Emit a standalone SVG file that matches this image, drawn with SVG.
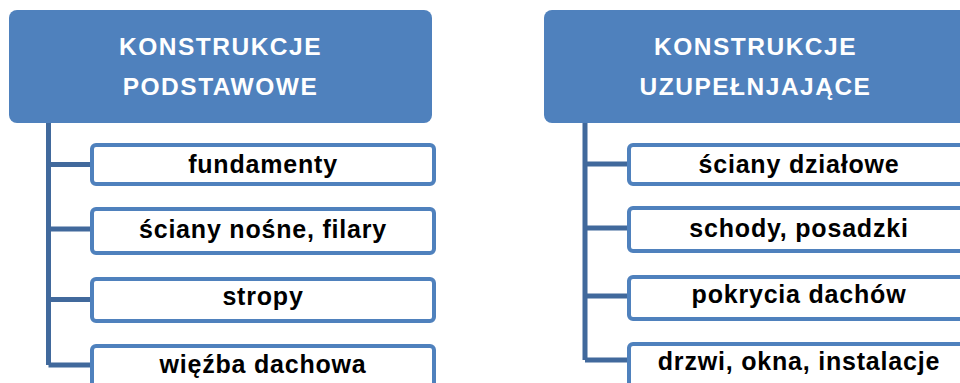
<svg xmlns="http://www.w3.org/2000/svg" width="960" height="383" viewBox="0 0 960 383">
  <style>
    .head rect { fill: #4F81BD; }
    .head text { fill: #FFFFFF; font-family: "Liberation Sans", Arial, sans-serif; font-weight: bold; font-size: 24.5px; letter-spacing: 1.5px; text-anchor: middle; }
    .item rect { fill: #FFFFFF; stroke: #4F81BD; stroke-width: 4; }
    .item text { fill: #000000; font-family: "Liberation Sans", Arial, sans-serif; font-weight: bold; font-size: 25px; letter-spacing: 0.8px; text-anchor: middle; }
    .links path { fill: none; stroke: #41699C; stroke-width: 5; }
  </style>

  <g id="connectors" class="links">
    <path d="M48.5 123 V365 M48.5 164.5 H92 M48.5 229 H92 M48.5 299.5 H92 M48.5 365 H92"/>
    <path d="M585 123 V360 M585 164 H629 M585 228 H629 M585 296 H629 M585 360 H629"/>
  </g>

  <g id="head-podstawowe" class="head">
    <rect x="9" y="10" width="423" height="113" rx="8"/>
    <text x="220.5" y="55">KONSTRUKCJE</text>
    <text x="220.5" y="95">PODSTAWOWE</text>
  </g>

  <g id="item-fundamenty" class="item">
    <rect x="92" y="145" width="342" height="39" rx="4"/>
    <text x="263" y="173">fundamenty</text>
  </g>
  <g id="item-sciany-nosne" class="item">
    <rect x="92" y="209" width="342" height="44" rx="4"/>
    <text x="263" y="238">ściany nośne, filary</text>
  </g>
  <g id="item-stropy" class="item">
    <rect x="92" y="279" width="342" height="42" rx="4"/>
    <text x="263" y="305">stropy</text>
  </g>
  <g id="item-wiezba" class="item">
    <rect x="92" y="346" width="342" height="44" rx="4"/>
    <text x="263" y="373">więźba dachowa</text>
  </g>

  <g id="head-uzupelniajace" class="head">
    <rect x="544" y="10" width="423" height="113" rx="8"/>
    <text x="755.5" y="55">KONSTRUKCJE</text>
    <text x="755.5" y="95">UZUPEŁNJAJĄCE</text>
  </g>

  <g id="item-sciany-dzialowe" class="item">
    <rect x="629" y="145" width="342" height="39" rx="4"/>
    <text x="799" y="173">ściany działowe</text>
  </g>
  <g id="item-schody" class="item">
    <rect x="629" y="208" width="342" height="43" rx="4"/>
    <text x="799" y="237">schody, posadzki</text>
  </g>
  <g id="item-pokrycia" class="item">
    <rect x="629" y="277" width="342" height="42" rx="4"/>
    <text x="799" y="303">pokrycia dachów</text>
  </g>
  <g id="item-drzwi" class="item">
    <rect x="629" y="344" width="342" height="44" rx="4"/>
    <text x="799" y="370">drzwi, okna, instalacje</text>
  </g>
</svg>
